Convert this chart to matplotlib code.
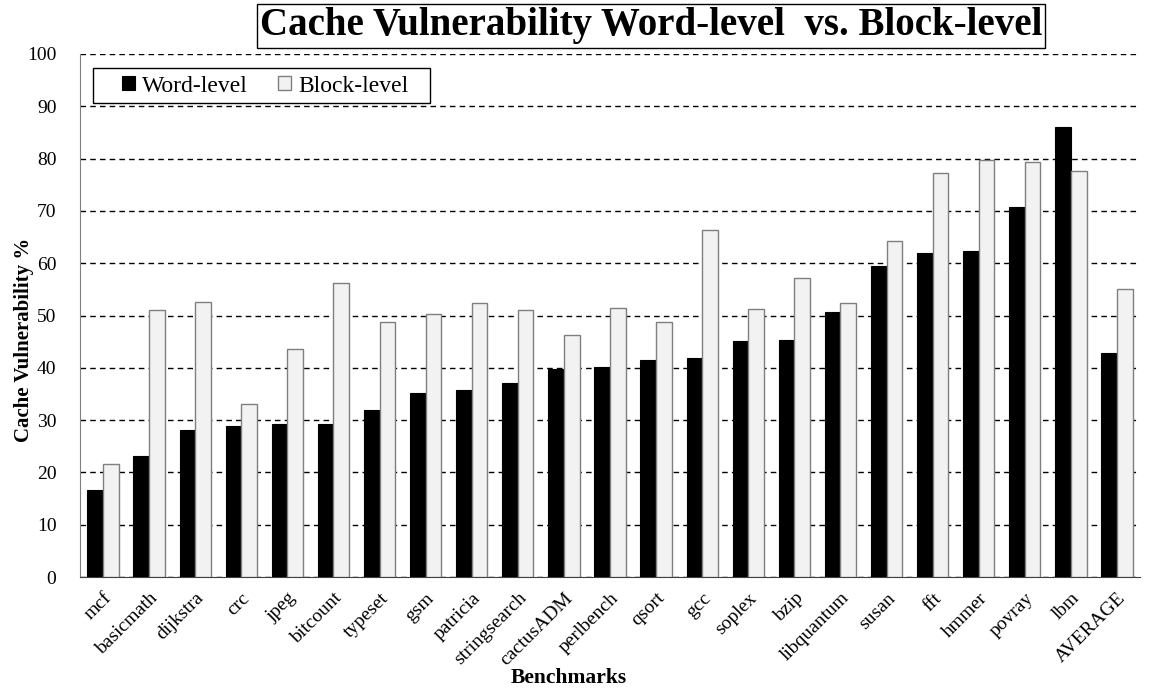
import matplotlib
matplotlib.use("Agg")
import matplotlib.pyplot as plt
from matplotlib.patches import Rectangle
import numpy as np

benchmarks = ["mcf", "basicmath", "dijkstra", "crc", "jpeg", "bitcount", "typeset", "gsm",
              "patricia", "stringsearch", "cactusADM", "perlbench", "qsort", "gcc", "soplex",
              "bzip", "libquantum", "susan", "fft", "hmmer", "povray", "lbm", "AVERAGE"]
word_level = [16.7, 23.1, 28.2, 28.8, 29.2, 29.2, 31.9, 35.1, 35.8, 37.0, 39.7, 40.1, 41.5,
              41.9, 45.1, 45.4, 50.7, 59.5, 62.0, 62.3, 70.7, 86.0, 42.8]
block_level = [21.7, 51.0, 52.5, 33.0, 43.5, 56.2, 48.7, 50.2, 52.3, 51.0, 46.3, 51.5, 48.7,
               66.4, 51.3, 57.2, 52.3, 64.3, 77.3, 79.7, 79.3, 77.7, 55.1]
y_ticks = list(range(0, 101, 10))

plt.rcParams['font.family'] = ['Liberation Serif', 'DejaVu Serif']

W, H = 1151, 688
fig = plt.figure(figsize=(W / 100, H / 100), dpi=100)
ax = fig.add_axes([80 / W, 1 - 577 / H, (1140 - 80) / W, (577 - 54) / H])

x = np.arange(len(benchmarks))
w = 0.34
ax.bar(x - w / 2, word_level, width=w, color="black", edgecolor="black", linewidth=0.8,
       label="Word-level", zorder=3)
ax.bar(x + w / 2, block_level, width=w, color="#f2f2f2", edgecolor="#7f7f7f", linewidth=1.0,
       label="Block-level", zorder=3)

ax.set_xlim(-0.5, len(benchmarks) - 0.5)
ax.set_ylim(0, 100)
ax.set_yticks(y_ticks)
ax.yaxis.grid(True, linestyle=(0, (4, 3)), color="black", linewidth=1.0, zorder=0)
ax.set_axisbelow(True)
ax.tick_params(axis="y", length=0, labelsize=14, pad=17)
ax.tick_params(axis="x", length=0, labelsize=14, pad=9)
ax.set_xticks(x)
ax.set_xticklabels(benchmarks, rotation=45, ha="right", rotation_mode="anchor")
for s in ["top", "right"]:
    ax.spines[s].set_visible(False)
ax.spines["left"].set_color("#808080")
ax.spines["bottom"].set_color("#404040")

fig.text(24 / W, 1 - 340 / H, "Cache Vulnerability %", fontsize=15, fontweight="bold",
         ha="center", va="center", rotation=90)
fig.text(569 / W, 1 - 678 / H, "Benchmarks", fontsize=15.5, fontweight="bold",
         ha="center", va="center")

fig.text(651 / W, 1 - 26 / H, "Cache Vulnerability Word-level  vs. Block-level",
         fontsize=28, fontweight="bold", ha="center", va="center",
         bbox=dict(boxstyle="square,pad=0.08", facecolor="white", edgecolor="black", linewidth=1.0))

# legend frame
frame = Rectangle((93 / W, 1 - 103 / H), (430 - 93) / W, (103 - 68) / H,
                  transform=fig.transFigure, facecolor="white", edgecolor="black",
                  linewidth=1.0, zorder=6, clip_on=False)
ax.add_patch(frame)
leg = ax.legend(loc="center left", bbox_to_anchor=(122 / W, 1 - 86 / H),
                bbox_transform=fig.transFigure,
                ncol=2, fontsize=17, frameon=False,
                handlelength=0.55, handleheight=0.55, handletextpad=0.3, columnspacing=1.27,
                borderpad=0, borderaxespad=0)
leg.set_zorder(7)

fig.savefig("out.png", dpi=100)
